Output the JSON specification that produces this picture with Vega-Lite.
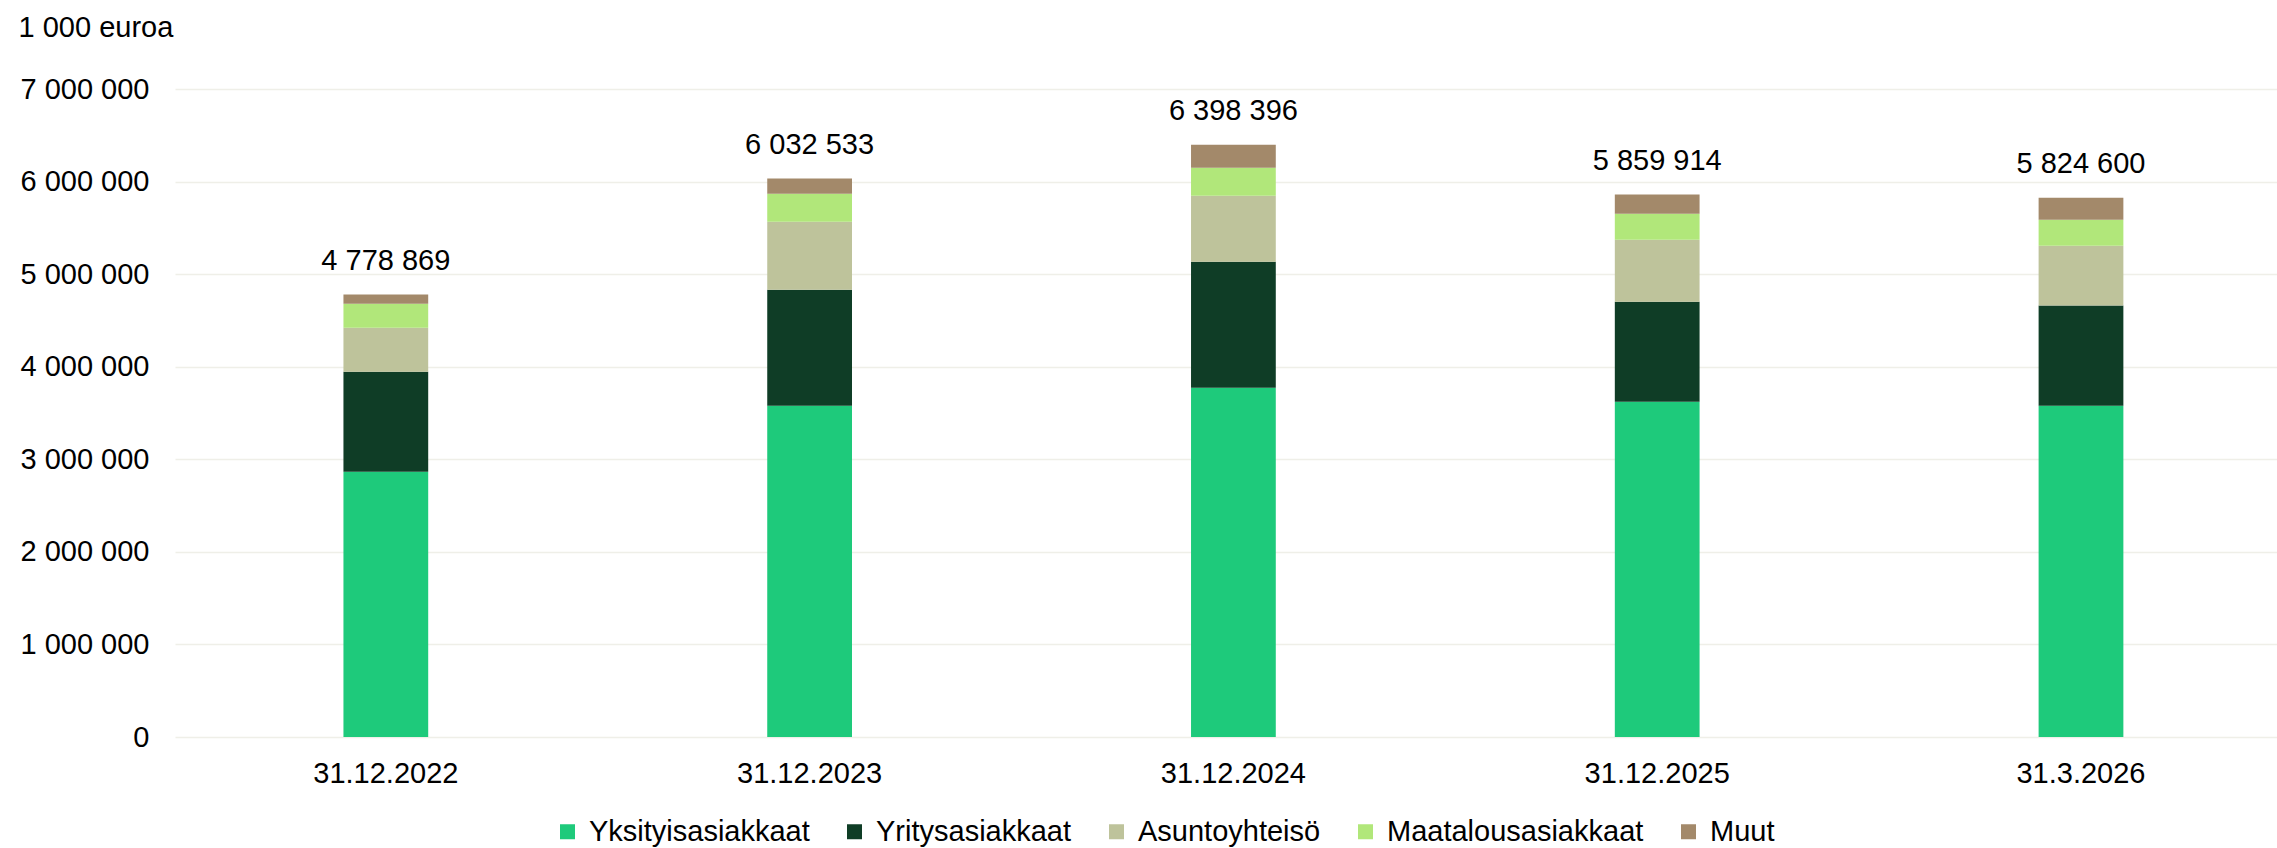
{
  "$schema": "https://vega.github.io/schema/vega-lite/v6.json",
  "autosize": {"type": "none"},
  "width": 2102,
  "height": 648,
  "padding": {"left": 175, "top": 89, "right": 0, "bottom": 111},
  "background": "white",
  "config": {
    "locale": {"number": {"decimal": ",", "thousands": " ", "grouping": [3], "currency": ["", " €"]}},
    "font": "Liberation Sans",
    "view": {"stroke": null},
    "axis": {"labelFont": "Liberation Sans", "titleFont": "Liberation Sans", "labelColor": "#000000", "titleColor": "#000000"},
    "legend": {"labelFont": "Liberation Sans"}
  },
  "data": {
    "values": [
      {"date": "31.12.2022", "group": "Yksityisasiakkaat", "value": 2866000},
      {"date": "31.12.2022", "group": "Yritysasiakkaat", "value": 1080000},
      {"date": "31.12.2022", "group": "Asuntoyhteisö", "value": 476000},
      {"date": "31.12.2022", "group": "Maatalousasiakkaat", "value": 259000},
      {"date": "31.12.2022", "group": "Muut", "value": 97869},
      {"date": "31.12.2023", "group": "Yksityisasiakkaat", "value": 3579000},
      {"date": "31.12.2023", "group": "Yritysasiakkaat", "value": 1253000},
      {"date": "31.12.2023", "group": "Asuntoyhteisö", "value": 735000},
      {"date": "31.12.2023", "group": "Maatalousasiakkaat", "value": 302000},
      {"date": "31.12.2023", "group": "Muut", "value": 163533},
      {"date": "31.12.2024", "group": "Yksityisasiakkaat", "value": 3773000},
      {"date": "31.12.2024", "group": "Yritysasiakkaat", "value": 1362000},
      {"date": "31.12.2024", "group": "Asuntoyhteisö", "value": 713000},
      {"date": "31.12.2024", "group": "Maatalousasiakkaat", "value": 302000},
      {"date": "31.12.2024", "group": "Muut", "value": 248396},
      {"date": "31.12.2025", "group": "Yksityisasiakkaat", "value": 3622000},
      {"date": "31.12.2025", "group": "Yritysasiakkaat", "value": 1080000},
      {"date": "31.12.2025", "group": "Asuntoyhteisö", "value": 670000},
      {"date": "31.12.2025", "group": "Maatalousasiakkaat", "value": 281000},
      {"date": "31.12.2025", "group": "Muut", "value": 206914},
      {"date": "31.3.2026", "group": "Yksityisasiakkaat", "value": 3579000},
      {"date": "31.3.2026", "group": "Yritysasiakkaat", "value": 1081000},
      {"date": "31.3.2026", "group": "Asuntoyhteisö", "value": 648000},
      {"date": "31.3.2026", "group": "Maatalousasiakkaat", "value": 280000},
      {"date": "31.3.2026", "group": "Muut", "value": 236600}
    ]
  },
  "encoding": {
    "x": {
      "field": "date", "type": "nominal", "sort": null,
      "scale": {"paddingInner": 0.8, "paddingOuter": 0.38, "align": 0.523},
      "axis": {"title": null, "labelAngle": 0, "labelFontSize": 29, "labelPadding": 22, "ticks": false, "domain": false, "grid": false}
    }
  },
  "layer": [
    {
      "mark": {"type": "bar"},
      "encoding": {
        "y": {
          "field": "value", "type": "quantitative", "stack": "zero",
          "scale": {"domain": [0, 7000000], "nice": false},
          "axis": {
            "title": "1 000 euroa", "titleAngle": 0, "titleAlign": "left", "titleBaseline": "alphabetic",
            "titleX": -157, "titleY": -53, "titleFontSize": 29, "titleFontWeight": "normal",
            "format": ",.0f", "values": [0, 1000000, 2000000, 3000000, 4000000, 5000000, 6000000, 7000000],
            "labelFontSize": 29, "labelPadding": 26, "ticks": false, "domain": false,
            "grid": true, "gridColor": "#EFEFE8", "gridWidth": 1.5
          }
        },
        "color": {
          "field": "group", "type": "nominal",
          "sort": ["Yksityisasiakkaat", "Yritysasiakkaat", "Asuntoyhteisö", "Maatalousasiakkaat", "Muut"],
          "scale": {
            "domain": ["Yksityisasiakkaat", "Yritysasiakkaat", "Asuntoyhteisö", "Maatalousasiakkaat", "Muut"],
            "range": ["#1ECA7B", "#0F3D26", "#BEC39B", "#B1E77A", "#A3896A"]
          },
          "legend": {
            "title": null, "orient": "none", "direction": "horizontal", "legendX": 378, "legendY": 728,
            "symbolType": "square", "symbolSize": 225, "symbolStrokeWidth": 0, "labelFontSize": 29,
            "labelColor": "#000000", "labelOffset": 7, "columnPadding": 30, "padding": 0, "labelLimit": 500
          }
        },
        "order": {"field": "stackOrder"}
      }
    },
    {
      "transform": [{"aggregate": [{"op": "sum", "field": "value", "as": "total"}], "groupby": ["date"]}],
      "mark": {"type": "text", "fontSize": 29, "baseline": "alphabetic", "align": "center", "dy": -25, "color": "#000000"},
      "encoding": {
        "y": {"field": "total", "type": "quantitative"},
        "text": {"field": "total", "type": "quantitative", "format": ","}
      }
    }
  ]
}
